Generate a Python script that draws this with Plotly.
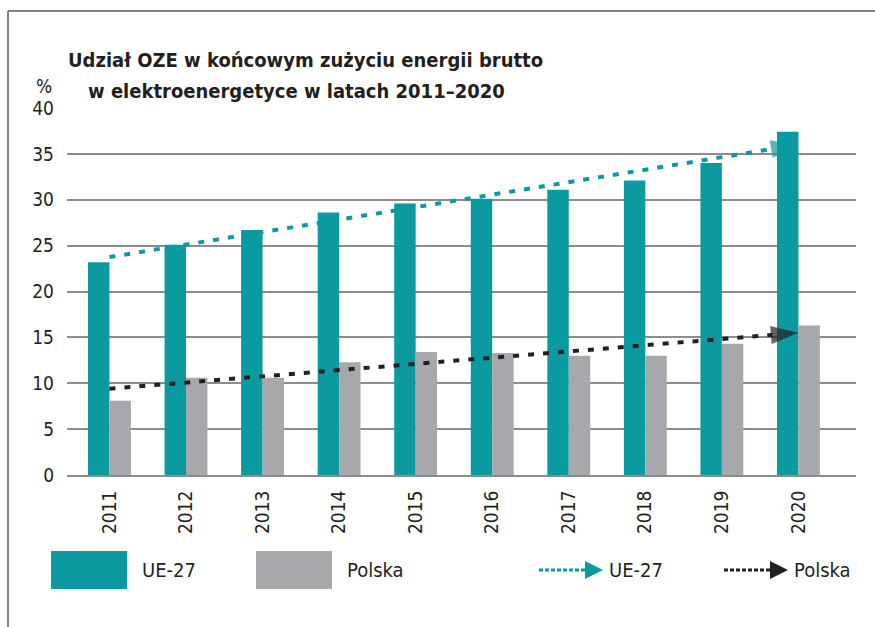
import plotly.graph_objects as go

# ---- data ----
years = ["2011", "2012", "2013", "2014", "2015", "2016", "2017", "2018", "2019", "2020"]
ue27 = [23.2, 25.1, 26.7, 28.6, 29.6, 30.1, 31.1, 32.1, 34.0, 37.4]
polska = [8.1, 10.6, 10.6, 12.3, 13.4, 13.3, 13.0, 13.0, 14.3, 16.3]
trend_years = ["2011", "2020"]
trend_ue27 = [23.75, 36.0]
trend_polska = [9.4, 15.5]
y_ticks = [0, 5, 10, 15, 20, 25, 30, 35, 40]

title_1 = "Udział OZE w końcowym zużyciu energii brutto"
title_2 = "w elektroenergetyce w latach 2011–2020"
unit_label = "%"
legend_labels = ["UE-27", "Polska", "UE-27", "Polska"]

# ---- style ----
W, H = 875, 627
L, R, T, B = 67, 19, 108, 152
TEAL = "#0B9AA0"
GRAY = "#A7A8AB"
DARK = "#231F20"
GRID = "#8C8C8C"
FONT = "Liberation Sans Narrow, DejaVu Sans Condensed, Arial Narrow, sans-serif"

pw, ph = W - L - R, H - T - B


def px(x):
    return (x - L) / pw


def py(y):
    return (H - B - y) / ph


fig = go.Figure()
fig.add_trace(go.Bar(x=years, y=ue27, name="UE-27", marker=dict(color=TEAL, line=dict(width=0))))
fig.add_trace(go.Bar(x=years, y=polska, name="Polska", marker=dict(color=GRAY, line=dict(width=0))))

for ys, col in ((trend_ue27, TEAL), (trend_polska, DARK)):
    fig.add_trace(go.Scatter(
        x=trend_years, y=ys, mode="lines+markers", showlegend=False,
        line=dict(color=col, width=4, dash="6px,9px"),
        marker=dict(symbol="arrow", size=[0, 29], angleref="previous", color=col,
                    line=dict(width=0)),
    ))

shapes = [
    # frame
    dict(type="line", xref="paper", yref="paper", x0=px(8), x1=px(8), y0=py(11), y1=py(640),
         line=dict(color="#5A5A5A", width=1.5)),
    dict(type="line", xref="paper", yref="paper", x0=px(8), x1=px(880), y0=py(11), y1=py(11),
         line=dict(color="#5A5A5A", width=1.5)),
    # legend boxes
    dict(type="rect", xref="paper", yref="paper", x0=px(51), x1=px(127), y0=py(551), y1=py(589),
         fillcolor=TEAL, line=dict(width=0)),
    dict(type="rect", xref="paper", yref="paper", x0=px(256), x1=px(332), y0=py(551), y1=py(589),
         fillcolor=GRAY, line=dict(width=0)),
    # legend dotted lines
    dict(type="line", xref="paper", yref="paper", x0=px(539), x1=px(586), y0=py(570), y1=py(570),
         line=dict(color=TEAL, width=3, dash="4px,2px")),
    dict(type="line", xref="paper", yref="paper", x0=px(724), x1=px(770), y0=py(570), y1=py(570),
         line=dict(color=DARK, width=3, dash="4px,2px")),
]

annotations = [
    dict(text=title_1, xref="paper", yref="paper", x=px(66), y=py(60), xanchor="left",
         yanchor="middle", showarrow=False, font=dict(family=FONT, size=20, color=DARK, weight="bold")),
    dict(text=title_2, xref="paper", yref="paper", x=px(86), y=py(91), xanchor="left",
         yanchor="middle", showarrow=False, font=dict(family=FONT, size=20, color=DARK, weight="bold")),
    dict(text=unit_label, xref="paper", yref="paper", x=px(44), y=py(86), xanchor="center",
         yanchor="middle", showarrow=False, font=dict(family=FONT, size=19, color=DARK)),
]
for lbl, xl in zip(legend_labels, (140, 345, 607, 792)):
    annotations.append(dict(text=lbl, xref="paper", yref="paper", x=px(xl), y=py(570),
                            xanchor="left", yanchor="middle", showarrow=False,
                            font=dict(family=FONT, size=20, color=DARK)))
for tip, col in ((603, TEAL), (788, DARK)):
    annotations.append(dict(text="", xref="paper", yref="paper", x=px(tip), y=py(570),
                            ax=-10, ay=0, showarrow=True, arrowhead=2, arrowsize=1.2,
                            arrowwidth=3, arrowcolor=col))

fig.update_layout(
    width=W, height=H, autosize=False,
    margin=dict(l=L, r=R, t=T, b=B, pad=0),
    paper_bgcolor="white", plot_bgcolor="white",
    barmode="group", bargap=0.44, bargroupgap=0,
    showlegend=False,
    font=dict(family=FONT, color=DARK),
    shapes=shapes, annotations=annotations,
    xaxis=dict(type="category", tickangle=-90, showgrid=False, ticks="",
               showline=True, linecolor=GRID, linewidth=2,
               tickfont=dict(family=FONT, size=19, color=DARK), ticklabelstandoff=6),
    yaxis=dict(range=[0, 40], tickvals=y_ticks, showgrid=True, gridcolor=GRID, gridwidth=1.5,
               zeroline=False, showline=False, ticks="",
               tickfont=dict(family=FONT, size=19, color=DARK), ticklabelstandoff=12),
)

fig.write_html("out.html", config={"displayModeBar": False},
               post_script="document.body.style.margin='0';document.body.style.padding='0';")
